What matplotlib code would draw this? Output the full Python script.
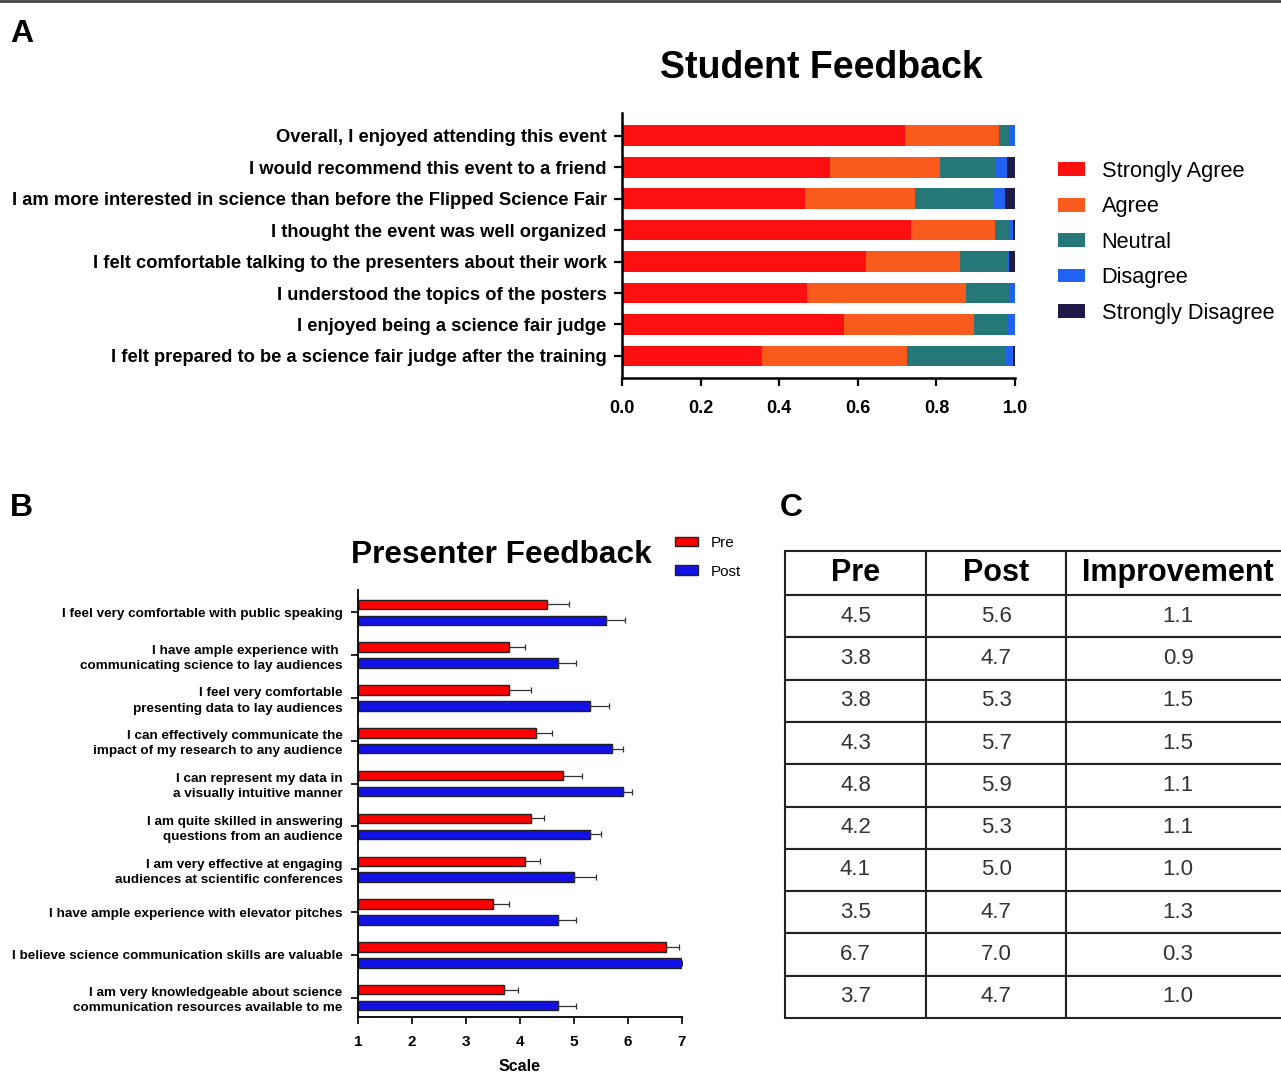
import numpy as np
import matplotlib
matplotlib.use("Agg")
import matplotlib.pyplot as plt
from matplotlib.lines import Line2D

plt.rcParams['font.family'] = ['Liberation Sans', 'DejaVu Sans']

# ---- panel A data: student feedback (fraction of responses)
student_items = [
    "Overall, I enjoyed attending this event",
    "I would recommend this event to a friend",
    "I am more interested in science than before the Flipped Science Fair",
    "I thought the event was well organized",
    "I felt comfortable talking to the presenters about their work",
    "I understood the topics of the posters",
    "I enjoyed being a science fair judge",
    "I felt prepared to be a science fair judge after the training",
]
likert_names = ["Strongly Agree", "Agree", "Neutral", "Disagree", "Strongly Disagree"]
strongly_agree = [0.72, 0.53, 0.465, 0.735, 0.62, 0.47, 0.565, 0.355]
agree = [0.24, 0.28, 0.28, 0.215, 0.24, 0.405, 0.33, 0.37]
neutral = [0.025, 0.14, 0.20, 0.035, 0.12, 0.11, 0.085, 0.25]
disagree = [0.015, 0.03, 0.03, 0.01, 0.005, 0.015, 0.02, 0.02]
strongly_disagree = [0.0, 0.02, 0.025, 0.005, 0.015, 0.0, 0.0, 0.005]
likert_colors = ["#fe1010", "#fa5a1c", "#267878", "#2262f2", "#1e1a48"]

# ---- panel B data: presenter self-ratings (1-7 scale)
presenter_items = [
    "I feel very comfortable with public speaking",
    "I have ample experience with \ncommunicating science to lay audiences",
    "I feel very comfortable\npresenting data to lay audiences",
    "I can effectively communicate the\nimpact of my research to any audience",
    "I can represent my data in\na visually intuitive manner",
    "I am quite skilled in answering\nquestions from an audience",
    "I am very effective at engaging\naudiences at scientific conferences",
    "I have ample experience with elevator pitches",
    "I believe science communication skills are valuable",
    "I am very knowledgeable about science\ncommunication resources available to me",
]
pre = [4.5, 3.8, 3.8, 4.3, 4.8, 4.2, 4.1, 3.5, 6.7, 3.7]
pre_err = [0.4, 0.3, 0.4, 0.3, 0.35, 0.25, 0.27, 0.3, 0.25, 0.26]
post = [5.6, 4.7, 5.3, 5.7, 5.9, 5.3, 5.0, 4.7, 7.0, 4.7]
post_err = [0.35, 0.34, 0.35, 0.2, 0.17, 0.2, 0.4, 0.34, 0.03, 0.34]

# ---- panel C table text
table_header = ["Pre", "Post", "Improvement"]
pre_txt = ["4.5", "3.8", "3.8", "4.3", "4.8", "4.2", "4.1", "3.5", "6.7", "3.7"]
post_txt = ["5.6", "4.7", "5.3", "5.7", "5.9", "5.3", "5.0", "4.7", "7.0", "4.7"]
impr_txt = ["1.1", "0.9", "1.5", "1.5", "1.1", "1.1", "1.0", "1.3", "0.3", "1.0"]

W, H = 1281, 1076
fig = plt.figure(figsize=(W / 100, H / 100), dpi=100)

def box(x0, y0, x1, y1):
    # pixel box (top-left origin) -> figure fraction rect
    return [x0 / W, 1 - y1 / H, (x1 - x0) / W, (y1 - y0) / H]

# thin rule along the top edge
fig.add_artist(Line2D([0, 1], [0.999, 0.999], color="#444444", lw=2))

# ================= A =================
axA = fig.add_axes(box(622, 113, 1015, 378))
ypos = np.arange(len(student_items))
left = np.zeros(len(student_items))
for vals, name, col in zip([strongly_agree, agree, neutral, disagree, strongly_disagree],
                           likert_names, likert_colors):
    axA.barh(ypos, vals, left=left, height=0.66, color=col, label=name)
    left = left + np.array(vals)
axA.set_xlim(0, 1.0)
axA.set_ylim(7.7, -0.72)
axA.set_yticks(ypos)
axA.set_yticklabels(student_items, fontsize=13.2, fontweight="bold")
axA.set_xticks(np.arange(0, 1.01, 0.2))
axA.set_xticklabels(["%.1f" % v for v in np.arange(0, 1.01, 0.2)], fontsize=13, fontweight="bold")
for s in ["top", "right"]:
    axA.spines[s].set_visible(False)
for s in ["left", "bottom"]:
    axA.spines[s].set_linewidth(1.8)
axA.tick_params(axis="both", length=6, width=1.6, pad=5)
axA.tick_params(axis="x", pad=10)
axA.legend(loc="upper left", bbox_to_anchor=(1058 / W, 1 - 161 / H),
           bbox_transform=fig.transFigure, frameon=False, fontsize=15.7,
           handlelength=1.25, handleheight=0.6, handletextpad=0.75,
           labelspacing=0.66, borderpad=0, borderaxespad=0)
fig.text(821 / W, 1 - 68 / H, "Student Feedback", fontsize=27, fontweight="bold",
         ha="center", va="center")

# ================= B =================
axB = fig.add_axes(box(358, 590, 682, 1017))
gpos = np.arange(len(presenter_items))
zeros = np.zeros(len(pre))
axB.barh(gpos - 0.186, np.array(pre) - 1, left=1, height=0.22, color="#ff0000",
         edgecolor="#222222", linewidth=1.0, label="Pre",
         xerr=[zeros, pre_err], error_kw=dict(ecolor="#333333", elinewidth=0.9, capsize=2, capthick=0.9))
axB.barh(gpos + 0.186, np.array(post) - 1, left=1, height=0.22, color="#1212e6",
         edgecolor="#222222", linewidth=1.0, label="Post",
         xerr=[zeros, post_err], error_kw=dict(ecolor="#333333", elinewidth=0.9, capsize=2, capthick=0.9))
axB.set_xlim(1, 7)
axB.set_ylim(9.45, -0.52)
axB.set_yticks(gpos)
axB.set_yticklabels(presenter_items, fontsize=9.7, fontweight="bold", linespacing=1.35)
axB.set_xticks(range(1, 8))
axB.set_xticklabels([str(v) for v in range(1, 8)], fontsize=11, fontweight="bold")
axB.set_xlabel("Scale", fontsize=11.5, fontweight="bold", labelpad=7)
for s in ["top", "right"]:
    axB.spines[s].set_visible(False)
for s in ["left", "bottom"]:
    axB.spines[s].set_linewidth(1.3)
axB.tick_params(axis="both", length=5, width=1.2, pad=6)
axB.tick_params(axis="x", pad=8)
axB.legend(loc="upper left", bbox_to_anchor=(675 / W, 1 - 536 / H),
           bbox_transform=fig.transFigure, frameon=False, fontsize=11,
           handlelength=1.5, handleheight=0.6, handletextpad=0.85,
           labelspacing=0.95, borderpad=0, borderaxespad=0)
fig.text(501 / W, 1 - 555 / H, "Presenter Feedback", fontsize=22.8, fontweight="bold",
         ha="center", va="center")

# ================= C =================
axC = fig.add_axes(box(785, 551, 1290, 1018))
axC.axis("off")
cells = [list(r) for r in zip(pre_txt, post_txt, impr_txt)]
tab = axC.table(cellText=cells, colLabels=table_header, cellLoc="center",
                colWidths=[141, 140, 224], bbox=[0, 0, 1, 1])
tab.auto_set_font_size(False)
for (r, c), cell in tab.get_celld().items():
    cell.set_linewidth(1.5)
    cell.set_edgecolor("#222222")
    if r == 0:
        cell.set_height(44)
        cell.get_text().set_fontsize(22)
        cell.get_text().set_fontweight("bold")
    else:
        cell.set_height(42.3)
        cell.get_text().set_fontsize(16)
        cell.get_text().set_color("#333333")

# panel letters
for lab, x, y in [("A", 10, 34), ("B", 10, 508), ("C", 780, 508)]:
    fig.text(x / W, 1 - y / H, lab, fontsize=23, fontweight="bold", ha="left", va="center")

plt.savefig("out.png", dpi=100)
